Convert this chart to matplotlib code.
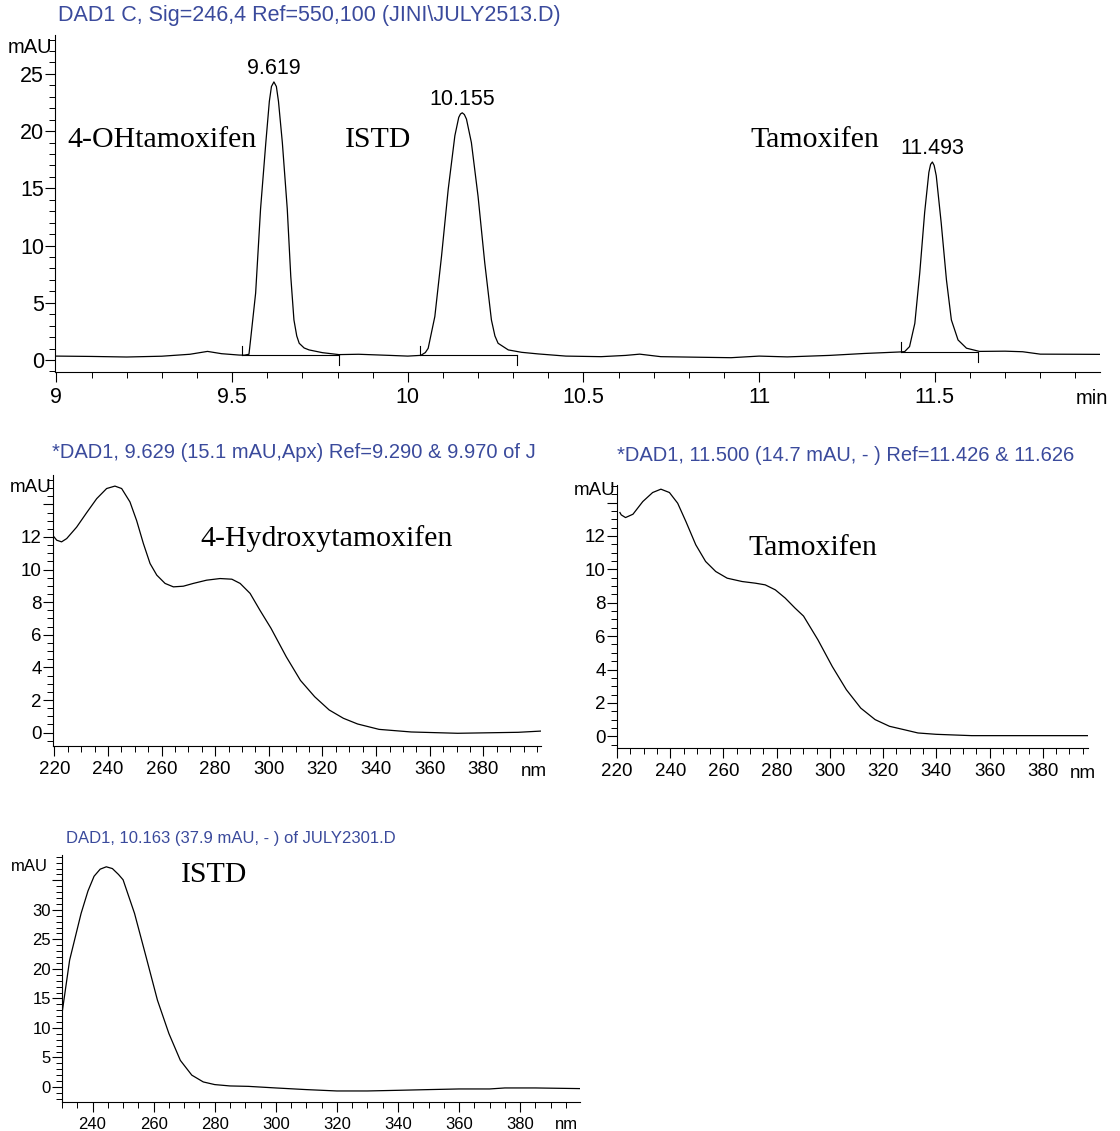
import matplotlib
matplotlib.use('Agg')
import matplotlib.pyplot as plt
from matplotlib.ticker import MultipleLocator

plt.rcParams['font.family'] = ['Liberation Sans', 'DejaVu Sans']

W, H = 1120, 1131
BLUE = '#3a4a9c'
SERIF = ['Liberation Serif', 'DejaVu Serif']

# chromatogram trace (min, mAU)
rt = [9.00, 9.10, 9.20, 9.30, 9.38, 9.43, 9.47, 9.52, 9.535,
      9.548, 9.552, 9.567, 9.581, 9.596, 9.606, 9.612, 9.619, 9.626, 9.632, 9.643, 9.657,
      9.667, 9.676, 9.684, 9.691, 9.705, 9.719, 9.757, 9.804,
      9.86, 9.95, 10.00, 10.035,
      10.039, 10.050, 10.058, 10.077, 10.096, 10.115, 10.134, 10.145, 10.150, 10.155, 10.161, 10.167,
      10.181, 10.200, 10.219, 10.238, 10.248, 10.257, 10.286, 10.324, 10.371,
      10.45, 10.55, 10.62, 10.66, 10.72, 10.85, 10.92, 11.00, 11.08, 11.20, 11.30, 11.40,
      11.414, 11.428, 11.443, 11.457, 11.471, 11.483, 11.488, 11.493, 11.498, 11.504, 11.518,
      11.533, 11.547, 11.566, 11.590, 11.627,
      11.70, 11.75, 11.80, 11.90, 11.98]
signal = [0.34, 0.31, 0.26, 0.33, 0.50, 0.75, 0.55, 0.43, 0.42,
          0.50, 1.6, 5.85, 13.2, 19.0, 22.6, 23.9, 24.3, 23.9, 22.6, 19.0, 13.2,
          7.3, 3.5, 2.1, 1.46, 1.05, 0.88, 0.64, 0.47,
          0.50, 0.40, 0.34, 0.40,
          0.44, 0.65, 1.02, 3.8, 9.06, 14.9, 19.6, 21.2, 21.5, 21.6, 21.45, 21.05,
          19.0, 14.3, 8.5, 3.5, 2.1, 1.46, 0.88, 0.67, 0.53,
          0.34, 0.29, 0.40, 0.51, 0.29, 0.23, 0.20, 0.34, 0.27, 0.40, 0.57, 0.70,
          0.73, 1.17, 3.2, 7.6, 12.9, 16.4, 17.1, 17.3, 17.0, 16.1, 12.0,
          7.0, 3.5, 1.75, 1.03, 0.75,
          0.77, 0.72, 0.51, 0.50, 0.49]

peak_rt = [9.619, 10.155, 11.493]
peak_top = [24.3, 21.6, 17.3]
peak_labels = ['9.619', '10.155', '11.493']
base_start = [9.528, 10.035, 11.404]
base_end = [9.803, 10.312, 11.623]
base_level = [0.43, 0.44, 0.73]

# UV spectra (nm, mAU)
wl_oh = [219.4, 220.9, 222.7, 224.6, 228.3, 232.1, 235.8, 239.5, 242.6, 245.1, 248.2, 250.7,
         253.2, 255.7, 258.2, 261.3, 264.4, 268.1, 271.8, 276.8, 281.8, 286.2, 289.3, 293.0,
         296.7, 300.8, 306.5, 311.8, 317.1, 322.5, 327.8, 333.1, 341.1, 353.1, 370.4, 393.0,
         402.0]
abs_oh = [12.1, 11.8, 11.7, 11.9, 12.6, 13.5, 14.35, 14.97, 15.12, 14.97, 14.15, 13.0,
          11.6, 10.37, 9.66, 9.15, 8.94, 8.98, 9.15, 9.35, 9.45, 9.41, 9.15, 8.54,
          7.5, 6.4, 4.65, 3.2, 2.2, 1.39, 0.88, 0.53, 0.2, 0.04, -0.04, 0.02,
          0.1]

wl_tam = [221.1, 221.6, 223.2, 226.0, 229.7, 233.4, 236.5, 239.7, 242.8, 245.9, 249.6, 253.3,
          257.1, 261.4, 267.0, 272.0, 275.7, 279.5, 283.2, 286.9, 290.1, 295.5, 300.9, 306.2,
          311.6, 317.0, 322.4, 327.8, 333.1, 339.9, 353.3, 373.5, 397.0]
abs_tam = [13.4, 13.26, 13.1, 13.3, 14.06, 14.6, 14.8, 14.6, 13.96, 12.86, 11.47, 10.47,
           9.87, 9.47, 9.27, 9.17, 9.07, 8.77, 8.28, 7.68, 7.2, 5.78, 4.18, 2.79,
           1.69, 1.0, 0.6, 0.4, 0.2, 0.12, 0.04, 0.04, 0.04]

wl_istd = [230.0, 232.5, 236.25, 238.5, 240.5, 242.5, 244.5, 246.5, 248.5, 250.0, 253.75, 257.5,
           261.25, 265.0, 268.75, 272.5, 276.25, 280.0, 285.0, 291.0, 300.0, 310.0, 320.0,
           330.0, 340.0, 350.0, 360.0, 370.0, 375.0, 385.0, 399.6]
abs_istd = [12.45, 21.5, 29.4, 33.2, 35.7, 36.9, 37.3, 37.0, 36.0, 35.1, 29.4, 22.1,
            14.7, 9.05, 4.5, 2.0, 0.85, 0.4, 0.17, 0.1, -0.17, -0.45, -0.68,
            -0.68, -0.57, -0.45, -0.34, -0.34, -0.17, -0.17, -0.28]


def px_axes(fig, left, top, right, bottom):
    return fig.add_axes([left / W, 1 - bottom / H, (right - left) / W, (bottom - top) / H])


def style(ax, size):
    for s in ['top', 'right']:
        ax.spines[s].set_visible(False)
    for s in ['left', 'bottom']:
        ax.spines[s].set_linewidth(0.8)
    ax.tick_params(which='major', direction='out', length=7, width=0.8, labelsize=size)
    ax.tick_params(which='minor', direction='out', length=4, width=0.7)
    ax.tick_params(axis='y', pad=1)
    ax.tick_params(axis='x', pad=4)
    ax.patch.set_alpha(0)


fig = plt.figure(figsize=(W / 100, H / 100), dpi=100)

# --- chromatogram ---
ax = px_axes(fig, 55, 35, 1100, 372)
ax.plot(rt, signal, color='black', lw=0.9)
for s, e, b in zip(base_start, base_end, base_level):
    ax.plot([s, e], [b, b], color='black', lw=0.8)
    ax.plot([s, s], [b, b + 0.8], color='black', lw=0.8)
    ax.plot([e, e], [b, b - 0.9], color='black', lw=0.8)
for t, h, lab in zip(peak_rt, peak_top, peak_labels):
    ax.annotate(lab, (t, h), xytext=(0, 2), textcoords='offset points',
                ha='center', va='bottom', fontsize=15.5)
ax.set_xlim(8.996, 11.97)
ax.set_ylim(-1.05, 28.4)
ax.xaxis.set_minor_locator(MultipleLocator(0.1))
ax.yaxis.set_major_locator(MultipleLocator(5))
ax.yaxis.set_minor_locator(MultipleLocator(1))
ax.set_xticks([9, 9.5, 10, 10.5, 11, 11.5])
ax.set_xticklabels(['9', '9.5', '10', '10.5', '11', '11.5'])
style(ax, 15.5)
ax.annotate('mAU', (0, 1), xycoords='axes fraction', xytext=(-2, -9), textcoords='offset points',
            ha='right', va='center', fontsize=14.5)
ax.annotate('min', (1, 0), xycoords='axes fraction', xytext=(-6, -19), textcoords='offset points',
            ha='center', va='center', fontsize=14.5)
ax.text(9.03, 19.2, '4-OHtamoxifen', family=SERIF, fontsize=21.5, va='center')
ax.text(9.82, 19.2, 'ISTD', family=SERIF, fontsize=21.5, va='center')
ax.text(10.975, 19.2, 'Tamoxifen', family=SERIF, fontsize=21.5, va='center')
fig.text(58 / W, 1 - 16 / H, 'DAD1 C, Sig=246,4 Ref=550,100 (JINI\\JULY2513.D)',
         color=BLUE, fontsize=15.5, va='center', ha='left')

# --- 4-hydroxytamoxifen spectrum ---
ax = px_axes(fig, 53, 475, 541, 746)
ax.plot(wl_oh, abs_oh, color='black', lw=0.9)
ax.set_xlim(219.5, 401.5)
ax.set_ylim(-0.82, 15.8)
ax.xaxis.set_minor_locator(MultipleLocator(5))
ax.yaxis.set_minor_locator(MultipleLocator(0.5))
ax.set_xticks(range(220, 400, 20))
ax.set_yticks(range(0, 16, 2))
ax.set_yticklabels([str(v) if v <= 12 else '' for v in range(0, 16, 2)])
style(ax, 13.5)
ax.annotate('mAU', (0, 1), xycoords='axes fraction', xytext=(-1, -9), textcoords='offset points',
            ha='right', va='center', fontsize=13.5)
ax.annotate('nm', (1, 0), xycoords='axes fraction', xytext=(-5, -18), textcoords='offset points',
            ha='center', va='center', fontsize=13.5)
ax.text(0.302, 0.764, '4-Hydroxytamoxifen', transform=ax.transAxes, family=SERIF,
        fontsize=21.5, va='center')
fig.text(52 / W, 1 - 452 / H, '*DAD1, 9.629 (15.1 mAU,Apx) Ref=9.290 & 9.970 of J',
         color=BLUE, fontsize=14.5, va='center', ha='left')

# --- tamoxifen spectrum ---
ax = px_axes(fig, 617, 485, 1088, 748)
ax.plot(wl_tam, abs_tam, color='black', lw=0.9)
ax.set_xlim(221.1, 397.0)
ax.set_ylim(-0.7, 15.05)
ax.xaxis.set_minor_locator(MultipleLocator(5))
ax.yaxis.set_minor_locator(MultipleLocator(0.5))
ax.set_xticks(range(220, 400, 20))
ax.set_yticks(range(0, 16, 2))
ax.set_yticklabels([str(v) if v <= 12 else '' for v in range(0, 16, 2)])
style(ax, 13.5)
ax.annotate('mAU', (0, 1), xycoords='axes fraction', xytext=(-1, -4), textcoords='offset points',
            ha='right', va='center', fontsize=13.5)
ax.annotate('nm', (1, 0), xycoords='axes fraction', xytext=(-4, -18), textcoords='offset points',
            ha='center', va='center', fontsize=13.5)
ax.text(0.28, 0.76, 'Tamoxifen', transform=ax.transAxes, family=SERIF,
        fontsize=21.5, va='center')
fig.text(617 / W, 1 - 455 / H, '*DAD1, 11.500 (14.7 mAU, - ) Ref=11.426 & 11.626',
         color=BLUE, fontsize=14.5, va='center', ha='left')

# --- ISTD spectrum ---
ax = px_axes(fig, 62, 855, 580, 1102)
ax.plot(wl_istd, abs_istd, color='black', lw=0.9)
ax.set_xlim(230.0, 399.6)
ax.set_ylim(-2.55, 39.3)
ax.xaxis.set_minor_locator(MultipleLocator(5))
ax.yaxis.set_minor_locator(MultipleLocator(1))
ax.set_xticks(range(240, 400, 20))
ax.set_yticks(range(0, 40, 5))
ax.set_yticklabels([str(v) if v <= 30 else '' for v in range(0, 40, 5)])
style(ax, 12)
ax.annotate('mAU', (0, 1), xycoords='axes fraction', xytext=(-10, -8), textcoords='offset points',
            ha='right', va='center', fontsize=12)
ax.annotate('nm', (1, 0), xycoords='axes fraction', xytext=(-10, -16), textcoords='offset points',
            ha='center', va='center', fontsize=12)
ax.text(0.23, 0.92, 'ISTD', transform=ax.transAxes, family=SERIF,
        fontsize=21.5, va='center')
fig.text(66 / W, 1 - 838 / H, 'DAD1, 10.163 (37.9 mAU, - ) of JULY2301.D',
         color=BLUE, fontsize=12, va='center', ha='left')

fig.savefig('out.png', dpi=100)
